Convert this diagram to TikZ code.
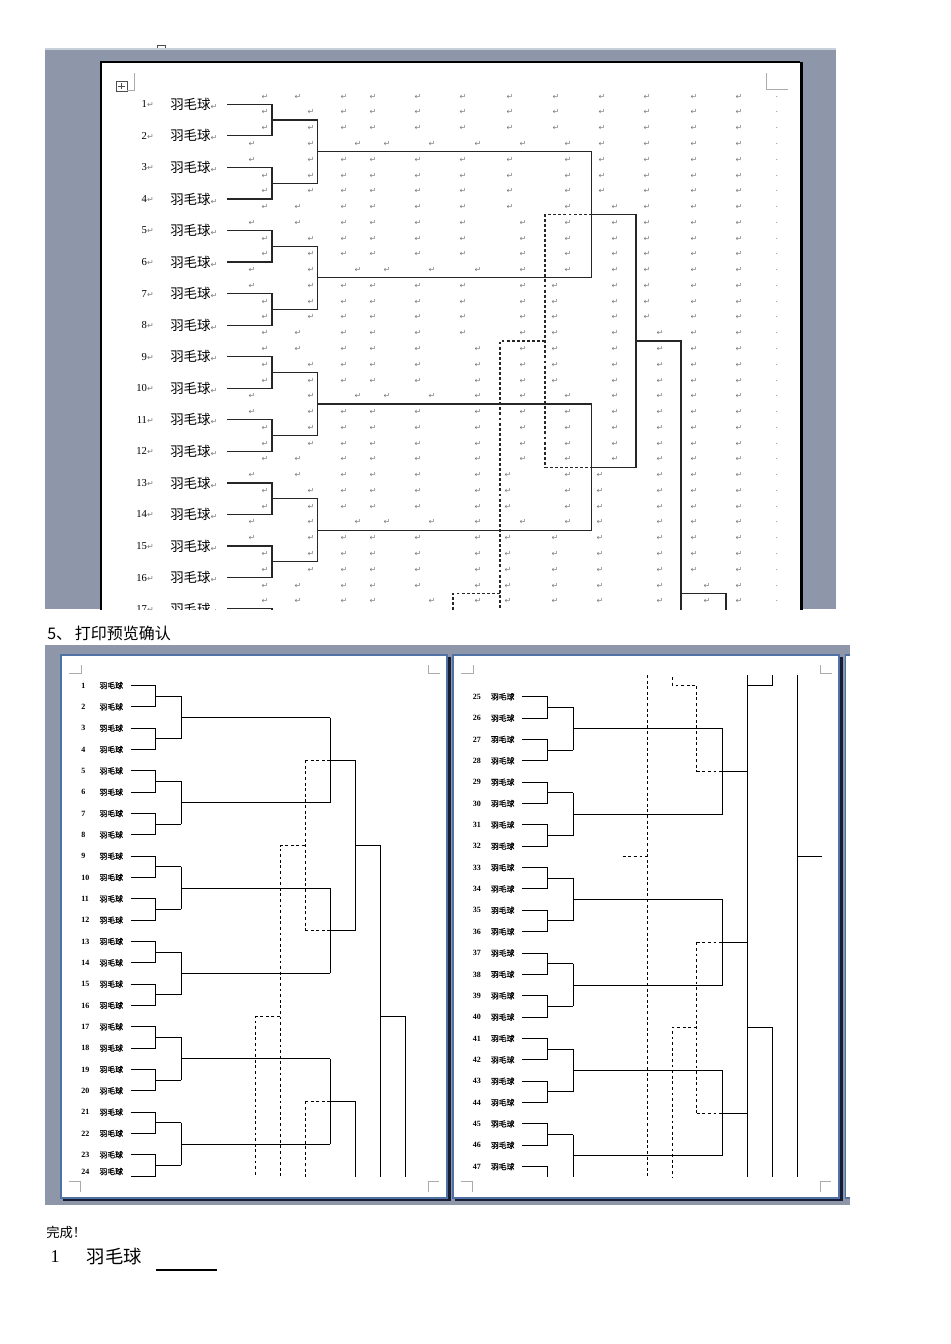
\documentclass[tikz,border=0pt]{standalone}
\usepackage{fontspec}
\setmainfont{Liberation Serif}
\newfontfamily\cjk{Noto Sans CJK SC}
\newfontfamily\cjkb[FakeBold=1.2]{Noto Sans CJK SC}
\newfontfamily\djv{DejaVu Sans}
\definecolor{scrgray}{RGB}{142,151,170}
\definecolor{stripc}{RGB}{200,208,220}
\definecolor{pageblue}{RGB}{80,113,165}
\definecolor{shadowc}{RGB}{22,30,52}
\definecolor{mkgray}{RGB}{125,125,125}
\definecolor{cornergray}{RGB}{170,170,170}
\begin{document}
\begin{tikzpicture}[x=0.75pt,y=-0.75pt,
  tl/.style={line width=0.9pt, draw=black!85},
  td/.style={tl, dash pattern=on 2.2pt off 1.6pt},
  pl/.style={line width=0.75pt, draw=black},
  pd/.style={pl, dash pattern=on 2.2pt off 2pt},
  rmk/.style={font=\djv\fontsize{6}{6}\selectfont, text=mkgray, inner sep=0pt},
  cornermk/.style={draw=cornergray, line width=0.6pt},
  tnum/.style={inner sep=0pt, anchor=east, font=\fontsize{8}{8}\selectfont},
  tname/.style={inner sep=0pt, anchor=west, font=\cjk\fontsize{10.1}{10}\selectfont},
  pnum/.style={inner sep=0pt, anchor=west, font=\bfseries\fontsize{6}{6}\selectfont},
  pname/.style={inner sep=0pt, anchor=west, font=\cjkb\fontsize{5.85}{6}\selectfont}]
\useasboundingbox (0,0) rectangle (950,1344);
\fill[white] (0,0) rectangle (950,1344);

% ================= top screenshot =================
\draw[black!70, line width=0.5pt] (157.5,50)--(157.5,45.5)--(165,45.5)--(165,50);
\fill[scrgray] (45,50) rectangle (836,609);
\fill[stripc] (45,48.5) rectangle (836,50);
\begin{scope}
\clip (45,50) rectangle (836,609);
\fill[white] (101,62) rectangle (800,615);
\draw[black, line width=0.8pt] (101,615)--(101,62)--(800,62);
\fill[black] (800,62) rectangle (803,615);
% table handle and corner marks
\draw[black!70, line width=0.5pt] (116,81) rectangle (127,91);
\draw[black!70, line width=0.5pt] (121.5,83)--(121.5,89) (118,86)--(125,86);
\draw[cornermk] (127,90.5)--(134,90.5)--(134,73);
\draw[cornermk] (766,73)--(766,89)--(788,89);
% paragraph marks grid
\foreach \r/\xs in {
 0/{265,298,344,373,418,463,510,556,602,647,694,739},
 1/{265,311,344,373,418,463,510,556,602,647,694,739},
 2/{265,311,344,373,418,463,510,556,602,647,694,739},
 3/{252,311,358,387,432,478,523,568,602,647,694,739},
 4/{252,311,344,373,418,463,510,568,602,647,694,739},
 5/{265,311,344,373,418,463,510,568,602,647,694,739},
 6/{265,311,344,373,418,463,510,568,602,647,694,739},
 7/{265,298,344,373,418,463,510,568,615,647,694,739},
 8/{252,298,344,373,418,463,523,568,615,647,694,739},
 9/{265,311,344,373,418,463,523,568,615,647,694,739},
 10/{265,311,344,373,418,463,523,568,615,647,694,739},
 11/{252,311,358,387,432,478,523,568,615,647,694,739},
 12/{252,311,344,373,418,463,523,555,615,647,694,739},
 13/{265,311,344,373,418,463,523,555,615,647,694,739},
 14/{265,311,344,373,418,463,523,555,615,647,694,739},
 15/{265,298,344,373,418,463,523,555,615,660,694,739},
 16/{265,298,344,373,418,478,523,555,615,660,694,739},
 17/{265,311,344,373,418,478,523,555,615,660,694,739},
 18/{265,311,344,373,418,478,523,555,615,660,694,739},
 19/{252,311,358,387,432,478,523,568,615,660,694,739},
 20/{252,311,344,373,418,478,523,568,615,660,694,739},
 21/{265,311,344,373,418,478,523,568,615,660,694,739},
 22/{265,311,344,373,418,478,523,568,615,660,694,739},
 23/{265,298,344,373,418,478,523,568,615,660,694,739},
 24/{252,298,344,373,418,478,508,568,600,660,694,739},
 25/{265,311,344,373,418,478,508,568,600,660,694,739},
 26/{265,311,344,373,418,478,508,568,600,660,694,739},
 27/{252,311,358,387,432,478,523,568,600,660,694,739},
 28/{252,311,344,373,418,478,508,555,600,660,694,739},
 29/{265,311,344,373,418,478,508,555,600,660,694,739},
 30/{265,311,344,373,418,478,508,555,600,660,694,739},
 31/{265,298,344,373,418,478,508,555,600,660,707,739},
 32/{265,298,344,373,432,478,508,555,600,660,707,739}}{
  \pgfmathsetmacro\yy{96.7+\r*15.77}
  \foreach \x in \xs {\node[rmk] (g\r-\x) at (\x,\yy) {↵};}
  \node[rmk] (e\r) at (777,\yy) {.};
}
% entries
\foreach \i in {1,...,17}{
  \pgfmathsetmacro\yy{104.3+(\i-1)*31.55}
  \node[tnum] (tn\i) at (154,\yy) {\i{\djv\fontsize{6}{6}\selectfont\color{mkgray}↵}};
  \node[tname] (tt\i) at (170,\yy) {羽毛球{\djv\fontsize{6}{6}\selectfont\color{mkgray}↵}};
}
% pairs
\foreach \k in {1,...,8}{
  \pgfmathsetmacro\ya{104.3+(2*\k-2)*31.55}
  \pgfmathsetmacro\yb{104.3+(2*\k-1)*31.55}
  \pgfmathsetmacro\ym{(\ya+\yb)/2}
  \draw[tl] (227,\ya)--(272,\ya)--(272,\yb)--(227,\yb);
  \draw[tl] (272,\ym)--(317.7,\ym);
}
\draw[tl] (227,608.8)--(272,608.8)--(272,620);
% quads
\foreach \q in {1,...,4}{
  \pgfmathsetmacro\pa{104.3+(4*\q-3.5)*31.55}
  \pgfmathsetmacro\pb{104.3+(4*\q-1.5)*31.55}
  \pgfmathsetmacro\qm{104.3+(4*\q-2.5)*31.55}
  \draw[tl] (317.7,\pa)--(317.7,\pb);
  \draw[tl] (317.7,\qm)--(591.7,\qm);
}
\draw[tl] (591.7,151.6)--(591.7,277.8);
\draw[tl] (591.7,404.0)--(591.7,530.2);
\draw[tl] (591.7,214.7)--(636,214.7)--(636,467.1)--(591.7,467.1);
\draw[tl] (636,340.9)--(681,340.9)--(681,615);
\draw[tl] (681,593.3)--(726,593.3)--(726,615);
\draw[td] (591.7,214.7)--(545,214.7)--(545,467.1)--(591.7,467.1);
\draw[td] (545,340.9)--(500,340.9)--(500,615);
\draw[td] (500,593.3)--(453,593.3)--(453,615);
\end{scope}

% ================= caption =================
\node[inner sep=0pt, anchor=west, font=\cjk\fontsize{12}{12}\selectfont] (cap) at (47,633.5) {5、\hspace{2pt}打印预览确认};

% ================= print preview =================
\fill[scrgray] (45,645) rectangle (850,1205);
% left page
\fill[white] (61,655) rectangle (447,1198);
\fill[shadowc] (447,657) rectangle (450.5,1201);
\fill[shadowc] (63,1198) rectangle (450.5,1201);
\draw[pageblue, line width=1.2pt] (61,655) rectangle (447,1198);
% right page
\fill[white] (453,655) rectangle (839,1198);
\fill[shadowc] (839,657) rectangle (842.5,1201);
\fill[shadowc] (455,1198) rectangle (842.5,1201);
\draw[pageblue, line width=1.2pt] (453,655) rectangle (839,1198);
% third page sliver
\fill[white] (845,655) rectangle (850,1198);
\draw[pageblue, line width=1.2pt] (850,655)--(845.5,655)--(845.5,1198)--(850,1198);
% corner marks
\foreach \o in {0,392}{
  \begin{scope}[xshift=\o*0.75pt]
  \draw[cornermk] (69,673)--(81,673)--(81,665);
  \draw[cornermk] (428,665)--(428,673)--(440,673);
  \draw[cornermk] (69,1181.7)--(80,1181.7)--(80,1192);
  \draw[cornermk] (439,1181.7)--(428,1181.7)--(428,1192);
  \end{scope}
}
% left page labels
\foreach \i in {1,...,23}{
  \pgfmathsetmacro\yy{685.5+(\i-1)*21.33}
  \node[pnum] (ln\i) at (81,\yy) {\i};
  \node[pname] (lt\i) at (99.3,\yy) {羽毛球};
}
\node[pnum] (ln24) at (81,1171.5) {24};
\node[pname] (lt24) at (99.3,1171.5) {羽毛球};
% left page pairs
\foreach \k in {1,...,12}{
  \pgfmathsetmacro\ya{685.5+(2*\k-2)*21.33}
  \pgfmathsetmacro\yb{685.5+(2*\k-1)*21.33}
  \pgfmathsetmacro\ym{(\ya+\yb)/2}
  \draw[pl] (130.7,\ya)--(155.7,\ya)--(155.7,\yb)--(130.7,\yb);
  \draw[pl] (155.7,\ym)--(181,\ym);
}
\foreach \q in {1,...,6}{
  \pgfmathsetmacro\pa{685.5+(4*\q-3.5)*21.33}
  \pgfmathsetmacro\pb{685.5+(4*\q-1.5)*21.33}
  \pgfmathsetmacro\qm{685.5+(4*\q-2.5)*21.33}
  \draw[pl] (181,\pa)--(181,\pb);
  \draw[pl] (181,\qm)--(330,\qm);
}
\foreach \o in {1,2,3}{
  \pgfmathsetmacro\qa{685.5+(8*\o-6.5)*21.33}
  \pgfmathsetmacro\qb{685.5+(8*\o-2.5)*21.33}
  \pgfmathsetmacro\om{685.5+(8*\o-4.5)*21.33}
  \draw[pl] (330,\qa)--(330,\qb);
  \draw[pl] (330,\om)--(355,\om);
  \draw[pd] (305,\om)--(330,\om);
}
\draw[pl] (355,760.2)--(355,930.8);
\draw[pl] (355,845.5)--(380,845.5)--(380,1177);
\draw[pl] (355,1101.4)--(355,1177);
\draw[pl] (380,1016.8)--(405.7,1016.8)--(405.7,1177);
\draw[pd] (305,760.2)--(305,930.8);
\draw[pd] (305,845.5)--(280,845.5)--(280,1177);
\draw[pd] (305,1101.4)--(305,1177);
\draw[pd] (280,1016.8)--(255.7,1016.8)--(255.7,1177);

% right page labels
\foreach \j in {25,...,47}{
  \pgfmathsetmacro\yy{696.7+(\j-25)*21.36}
  \node[pnum] (rn\j) at (472.7,\yy) {\j};
  \node[pname] (rt\j) at (490.7,\yy) {羽毛球};
}
\foreach \k in {0,...,10}{
  \pgfmathsetmacro\ya{696.7+(2*\k)*21.36}
  \pgfmathsetmacro\yb{696.7+(2*\k+1)*21.36}
  \pgfmathsetmacro\ym{(\ya+\yb)/2}
  \draw[pl] (522.3,\ya)--(547.3,\ya)--(547.3,\yb)--(522.3,\yb);
  \draw[pl] (547.3,\ym)--(573.3,\ym);
}
\draw[pl] (522.3,1166.6)--(547.3,1166.6)--(547.3,1177);
\foreach \q in {0,...,5}{
  \pgfmathsetmacro\pa{696.7+(4*\q+0.5)*21.36}
  \pgfmathsetmacro\pb{min(696.7+(4*\q+2.5)*21.36,1177)}
  \pgfmathsetmacro\qm{696.7+(4*\q+1.5)*21.36}
  \draw[pl] (573.3,\pa)--(573.3,\pb);
  \draw[pl] (573.3,\qm)--(722.7,\qm);
}
\foreach \o in {0,1,2}{
  \pgfmathsetmacro\qa{696.7+(8*\o+1.5)*21.36}
  \pgfmathsetmacro\qb{696.7+(8*\o+5.5)*21.36}
  \pgfmathsetmacro\om{696.7+(8*\o+3.5)*21.36}
  \draw[pl] (722.7,\qa)--(722.7,\qb);
  \draw[pl] (722.7,\om)--(747.3,\om);
  \draw[pd] (696.7,\om)--(722.7,\om);
}
\draw[pd] (672.3,677)--(672.3,685)--(696.7,685)--(696.7,771.5);
\draw[pd] (696.7,942.3)--(696.7,1113.2);
\draw[pd] (696.7,1027.3)--(672.3,1027.3)--(672.3,1177);
\draw[pd] (647.7,675)--(647.7,1177);
\draw[pd] (622.7,856)--(647.7,856);
\draw[pl] (747.3,675)--(747.3,1177);
\draw[pl] (772.3,675)--(772.3,685)--(747.3,685);
\draw[pl] (747.3,1027.3)--(772.3,1027.3)--(772.3,1177);
\draw[pl] (797.7,675)--(797.7,1177);
\draw[pl] (797.7,856)--(821.7,856);

% ================= bottom text =================
\node[inner sep=0pt, anchor=west, font=\cjk\fontsize{10}{10}\selectfont] (done) at (46,1232.5) {完成！};
\node[inner sep=0pt, font=\fontsize{13.5}{13.5}\selectfont] (one) at (55,1257) {1};
\node[inner sep=0pt, anchor=west, font=\cjk\fontsize{13.75}{14}\selectfont] (ymq) at (86.5,1256.5) {羽毛球};
\coordinate (ula) at (156,1270);
\coordinate (ulb) at (217.3,1270);
\draw[line width=1pt] (ula)--(ulb);
\end{tikzpicture}
\end{document}
